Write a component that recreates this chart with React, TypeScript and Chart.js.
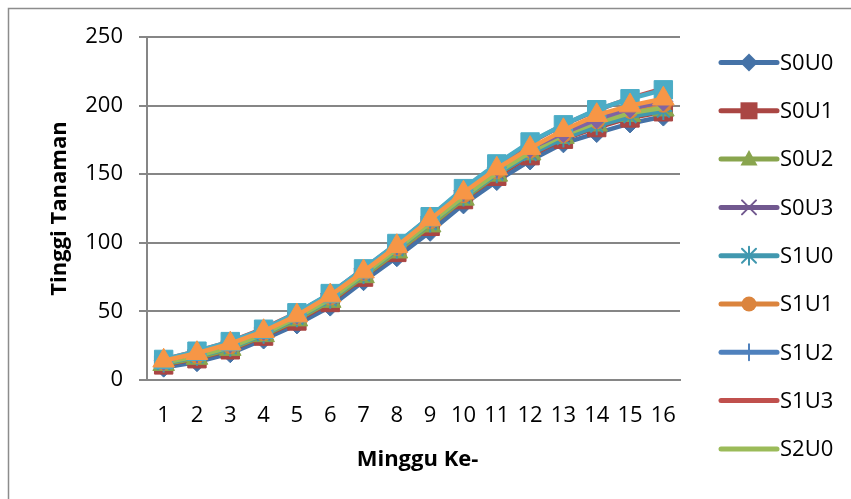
import { useEffect, useRef } from "react";
import { Chart, registerables } from "chart.js";

Chart.register(...registerables);

// Weeks after planting
const weeks = ["1", "2", "3", "4", "5", "6", "7", "8", "9", "10", "11", "12", "13", "14", "15", "16"];

// Plant height per treatment (cm)
const s0u0 = [9, 13, 19.5, 29.5, 40.5, 53.5, 72, 89.5, 108, 128, 145, 160, 172.5, 180, 187, 192];
const s0u1 = [11, 15.5, 22, 32, 43, 56.5, 75, 93, 112, 131.5, 148.5, 163.5, 175.5, 184, 191, 195.5];
const s0u2 = [11.5, 16, 22.5, 32.5, 44, 57.5, 75.5, 93.5, 112.5, 132, 149.5, 165, 177, 186, 193, 197];
const s0u3 = [13, 18.5, 25, 34, 46, 60, 78, 96, 115, 134, 151, 165, 178, 188, 196, 200];
const s1u0 = [12, 17, 23.5, 33, 45, 58.5, 76.5, 95, 114, 133, 150, 164.5, 176, 185, 192, 196];
const s1u1 = [13, 18, 25, 34.5, 46.5, 60.5, 78.5, 96.5, 116, 135, 152.5, 167.5, 179, 189, 196.5, 201];
const s1u2 = [14, 19, 26, 35.5, 47.5, 61.5, 79.5, 97.5, 117, 136.5, 153.5, 168, 180, 190.5, 198, 203];
const s1u3 = [15, 21, 28, 37.5, 49, 62.5, 80, 98.5, 118.5, 139, 157, 173, 186, 196.5, 205.5, 212.5];
const s2u0 = [12.5, 17.5, 24, 33.5, 45.5, 59, 77, 95.5, 114.5, 133.5, 151, 166, 178.5, 187.5, 194.5, 198.5];
const s2u1 = [14, 20, 27, 36, 48, 63, 81, 99, 119, 138, 155, 169, 180, 190, 198, 203];
const s2u2 = [15, 21, 28, 37, 49, 63, 81, 99.5, 119, 139.5, 157.5, 173.5, 186, 197, 205, 211.5];
const s2u3 = [14, 19.5, 26.5, 35.5, 47, 61.5, 79, 97.5, 117, 136.5, 154, 169, 182, 193, 200, 205];

const seriesNames = ["S0U0", "S0U1", "S0U2", "S0U3", "S1U0", "S1U1", "S1U2", "S1U3", "S2U0", "S2U1", "S2U2", "S2U3"];
const seriesValues = [s0u0, s0u1, s0u2, s0u3, s1u0, s1u1, s1u2, s1u3, s2u0, s2u1, s2u2, s2u3];
const seriesColors = [
  "#4572A7", "#AA4643", "#89A54E", "#71588F", "#4198AF", "#DB843D",
  "#4F81BD", "#C0504D", "#9BBB59", "#8064A2", "#4BACC6", "#F79646",
];
type Marker = "diamond" | "square" | "triangle" | "x" | "star" | "circle" | "plus" | "none";
const seriesMarkers: Marker[] = [
  "diamond", "square", "triangle", "x", "star", "circle",
  "plus", "none", "none", "diamond", "square", "triangle",
];
const legendCount = 9;

const yMin = 0;
const yMax = 250;
const yStep = 50;

const xTitle = "Minggu Ke-";
const yTitle = "Tinggi Tanaman";

const FONT = "'Open Sans', 'Noto Sans', sans-serif";
const GRID = "#868686";

const pointStyleFor: Record<Marker, any> = {
  diamond: "rectRot",
  square: "rect",
  triangle: "triangle",
  x: "crossRot",
  star: "star",
  circle: "circle",
  plus: "cross",
  none: false,
};
const pointRadiusFor: Record<Marker, number> = {
  diamond: 9.5,
  square: 13,
  triangle: 12.5,
  x: 9,
  star: 9,
  circle: 8,
  plus: 9,
  none: 0,
};

function drawLegendMarker(ctx: CanvasRenderingContext2D, m: Marker, x: number, y: number, color: string) {
  ctx.save();
  ctx.fillStyle = color;
  ctx.strokeStyle = color;
  ctx.lineWidth = 2;
  ctx.beginPath();
  switch (m) {
    case "diamond":
      ctx.moveTo(x, y - 9);
      ctx.lineTo(x + 9, y);
      ctx.lineTo(x, y + 9);
      ctx.lineTo(x - 9, y);
      ctx.closePath();
      ctx.fill();
      break;
    case "square":
      ctx.rect(x - 8.5, y - 8.5, 17, 17);
      ctx.fill();
      break;
    case "triangle":
      ctx.moveTo(x, y - 9);
      ctx.lineTo(x + 8.5, y + 6.5);
      ctx.lineTo(x - 8.5, y + 6.5);
      ctx.closePath();
      ctx.fill();
      break;
    case "x":
      ctx.moveTo(x - 7, y - 7);
      ctx.lineTo(x + 7, y + 7);
      ctx.moveTo(x + 7, y - 7);
      ctx.lineTo(x - 7, y + 7);
      ctx.stroke();
      break;
    case "star":
      ctx.moveTo(x - 7, y - 7);
      ctx.lineTo(x + 7, y + 7);
      ctx.moveTo(x + 7, y - 7);
      ctx.lineTo(x - 7, y + 7);
      ctx.moveTo(x, y - 9);
      ctx.lineTo(x, y + 9);
      ctx.stroke();
      break;
    case "circle":
      ctx.arc(x, y, 7.5, 0, Math.PI * 2);
      ctx.fill();
      break;
    case "plus":
      ctx.moveTo(x, y - 8);
      ctx.lineTo(x, y + 8);
      ctx.moveTo(x - 8, y);
      ctx.lineTo(x + 8, y);
      ctx.stroke();
      break;
    default:
      break;
  }
  ctx.restore();
}

// Frame, axis titles and the line-with-marker legend
const decorations = {
  id: "decorations",
  afterDraw(chart: any) {
    const ctx: CanvasRenderingContext2D = chart.ctx;
    const area = chart.chartArea;
    ctx.save();

    // outer frame
    ctx.strokeStyle = "#8C8C8C";
    ctx.lineWidth = 1.5;
    ctx.beginPath();
    ctx.moveTo(8.5, chart.height + 2);
    ctx.lineTo(8.5, 8.5);
    ctx.lineTo(chart.width + 2, 8.5);
    ctx.stroke();

    // axis titles
    ctx.fillStyle = "#000";
    ctx.font = `bold 22px ${FONT}`;
    ctx.textAlign = "center";
    ctx.textBaseline = "middle";
    ctx.fillText(xTitle, (area.left + area.right) / 2 + 4, 460);
    ctx.save();
    ctx.translate(60, (area.top + area.bottom) / 2);
    ctx.rotate(-Math.PI / 2);
    ctx.fillText(yTitle, 0, 0);
    ctx.restore();

    // legend
    const x0 = 721;
    const x1 = 777;
    const top = 62.5;
    const gap = 48.3;
    ctx.font = `22px ${FONT}`;
    ctx.textAlign = "left";
    for (let i = 0; i < legendCount; i++) {
      const y = top + i * gap;
      ctx.strokeStyle = seriesColors[i];
      ctx.lineWidth = 5;
      ctx.lineCap = "round";
      ctx.beginPath();
      ctx.moveTo(x0, y);
      ctx.lineTo(x1, y);
      ctx.stroke();
      drawLegendMarker(ctx, seriesMarkers[i], (x0 + x1) / 2, y, seriesColors[i]);
      ctx.fillStyle = "#000";
      ctx.fillText(seriesNames[i], 780, y + 1);
    }
    ctx.restore();
  },
};

export default function App() {
  const canvasRef = useRef<HTMLCanvasElement | null>(null);

  useEffect(() => {
    const canvas = canvasRef.current;
    if (!canvas) return;

    const datasets = seriesNames.map((name, i) => {
      const m = seriesMarkers[i];
      const filled = m === "diamond" || m === "square" || m === "triangle" || m === "circle";
      return {
        label: name,
        data: seriesValues[i],
        borderColor: seriesColors[i],
        backgroundColor: seriesColors[i],
        borderWidth: 4.5,
        tension: 0,
        pointStyle: pointStyleFor[m],
        pointRadius: pointRadiusFor[m],
        pointHoverRadius: pointRadiusFor[m],
        pointBackgroundColor: filled ? seriesColors[i] : "rgba(0,0,0,0)",
        pointBorderColor: seriesColors[i],
        pointBorderWidth: filled ? 1 : 2,
        order: seriesNames.length - i,
      };
    });

    const chart = new Chart(canvas, {
      type: "line",
      data: { labels: weeks, datasets },
      options: {
        responsive: false,
        animation: false,
        devicePixelRatio: 1,
        layout: { padding: { left: 0, right: 171, top: 37, bottom: 0 } },
        plugins: {
          legend: { display: false },
          tooltip: { enabled: false },
        },
        scales: {
          x: {
            offset: true,
            grid: { display: false, drawTicks: false },
            border: { display: true, color: GRID, width: 2 },
            ticks: {
              color: "#000",
              font: { family: FONT, size: 22 },
              padding: 23,
              maxRotation: 0,
              autoSkip: false,
            },
            afterFit(scale: any) {
              scale.height = 119;
            },
          },
          y: {
            min: yMin,
            max: yMax,
            grid: { color: GRID, lineWidth: 2, tickLength: 8, drawTicks: true },
            border: { display: true, color: GRID, width: 2 },
            ticks: {
              stepSize: yStep,
              color: "#000",
              font: { family: FONT, size: 22 },
              padding: 16,
            },
            afterFit(scale: any) {
              scale.width = 147;
            },
          },
        },
      },
      plugins: [decorations],
    });

    return () => chart.destroy();
  }, []);

  return (
    <div style={{ position: "fixed", left: 0, top: 0, width: 851, height: 499, background: "#fff" }}>
      <canvas ref={canvasRef} width={851} height={499} style={{ display: "block" }} />
    </div>
  );
}
